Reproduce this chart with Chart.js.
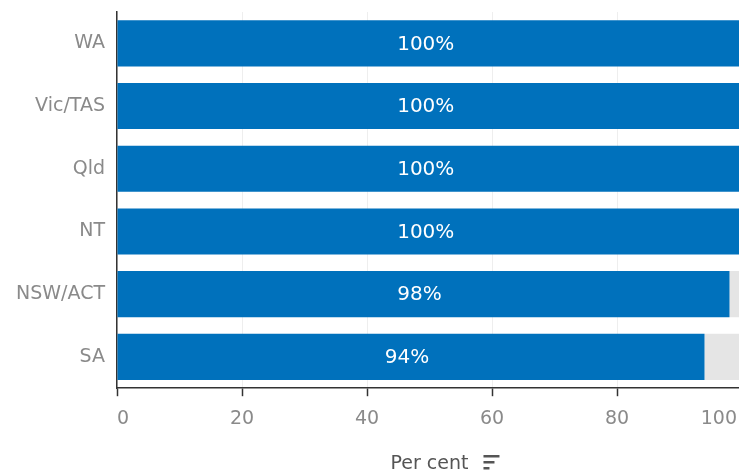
<!DOCTYPE html>
<html>
<head>
<meta charset="utf-8">
<script src="https://cdn.jsdelivr.net/npm/chart.js@4.4.1/dist/chart.umd.min.js"></script>
<style>
  html, body { margin: 0; padding: 0; background: #ffffff; overflow: hidden; }
  #wrap { position: relative; width: 739px; height: 475px; overflow: hidden; }
  canvas { display: block; }
</style>
</head>
<body>
<div id="wrap"><canvas id="c" width="742" height="475"></canvas></div>
<script>
// ---- Data ----
const categories = ['WA', 'Vic/TAS', 'Qld', 'NT', 'NSW/ACT', 'SA'];
const shareValues = [100, 100, 100, 100, 98, 94];
const remainderValues = [0, 0, 0, 0, 2, 6];
const xTickValues = [0, 20, 40, 60, 80, 100];
const xTickLabels = ['0', '20', '40', '60', '80', '100'];
const axisTitle = 'Per cent';

const FONT = "'DejaVu Sans', 'Open Sans', sans-serif";

// Draw x tick labels (first/last kept inside the plot width) and the sort icon
const xLabelsPlugin = {
  id: 'xLabels',
  afterDraw(chart) {
    const ctx = chart.ctx;
    const xs = chart.scales.x;
    ctx.save();
    ctx.font = "19px " + FONT;
    ctx.fillStyle = '#8a8a8a';
    ctx.textBaseline = 'middle';
    ctx.textAlign = 'left';
    const visibleRight = 737;
    xTickValues.forEach((v, i) => {
      const px = xs.getPixelForValue(v);
      const w = ctx.measureText(xTickLabels[i]).width;
      let left = px - w / 2;
      if (left < xs.left) left = xs.left;
      if (left + w > visibleRight) left = visibleRight - w;
      ctx.fillText(xTickLabels[i], left, xs.top + 31);
    });
    // sort icon beside the axis title
    ctx.font = "19px " + FONT;
    const tw = ctx.measureText(axisTitle).width;
    const cx = (xs.left + xs.right) / 2;
    const ix = cx + tw / 2 + 15;
    ctx.fillStyle = '#555555';
    ctx.fillRect(ix, 455, 16, 2.5);
    ctx.fillRect(ix, 461, 11, 2.5);
    ctx.fillRect(ix, 467, 6, 2.5);
    ctx.restore();
  }
};

// Value labels inside the blue bars
const valueLabelsPlugin = {
  id: 'valueLabels',
  afterDatasetsDraw(chart) {
    const ctx = chart.ctx;
    const meta = chart.getDatasetMeta(0);
    ctx.save();
    ctx.font = "20px " + FONT;
    ctx.fillStyle = '#ffffff';
    ctx.textAlign = 'center';
    ctx.textBaseline = 'middle';
    meta.data.forEach((bar, i) => {
      const cx = (bar.x + bar.base) / 2;
      ctx.fillText(shareValues[i] + '%', cx - 4, bar.y + 1);
    });
    ctx.restore();
  }
};

new Chart(document.getElementById('c'), {
  type: 'bar',
  data: {
    labels: categories,
    datasets: [
      {
        data: shareValues,
        backgroundColor: '#0071bc',
        borderWidth: 0,
        barPercentage: 0.735,
        categoryPercentage: 1.0
      },
      {
        data: remainderValues,
        backgroundColor: '#e5e5e5',
        borderWidth: 0,
        barPercentage: 0.735,
        categoryPercentage: 1.0
      }
    ]
  },
  options: {
    indexAxis: 'y',
    responsive: false,
    animation: false,
    events: [],
    devicePixelRatio: 1,
    layout: { padding: { top: 12, right: 0, bottom: 0, left: 0 } },
    plugins: {
      legend: { display: false },
      tooltip: { enabled: false },
      title: { display: false }
    },
    scales: {
      x: {
        stacked: true,
        position: 'bottom',
        min: 0,
        max: 100,
        ticks: { display: false, stepSize: 20 },
        grid: {
          display: true,
          color: '#eeeeee',
          lineWidth: 1,
          drawTicks: true,
          tickLength: 8,
          tickColor: '#333333',
          tickWidth: 1.5
        },
        border: { display: true, color: '#333333', width: 1.5 },
        title: {
          display: true,
          text: axisTitle,
          color: '#555555',
          font: { family: FONT, size: 19, lineHeight: 1.2 },
          padding: { top: 56, bottom: 0 }
        }
      },
      y: {
        stacked: true,
        afterFit(scale) {
          scale.width = 117;
          scale.paddingTop = 0;
          scale.paddingBottom = 0;
        },
        ticks: {
          color: '#8a8a8a',
          font: { family: FONT, size: 19 },
          padding: 12
        },
        grid: { display: false, drawTicks: false },
        border: { display: true, color: '#333333', width: 1.5 }
      }
    }
  },
  plugins: [xLabelsPlugin, valueLabelsPlugin]
});
</script>
</body>
</html>
